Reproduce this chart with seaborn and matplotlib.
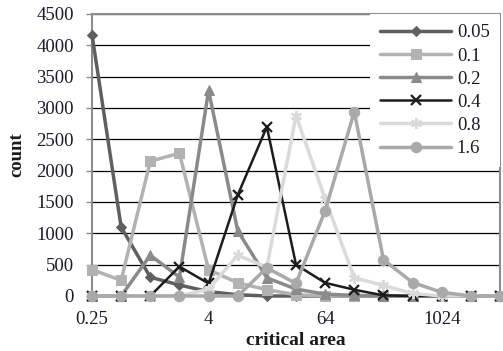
import numpy as np
import pandas as pd
import matplotlib
matplotlib.use("Agg")
import matplotlib.pyplot as plt
import seaborn as sns
from matplotlib.ticker import FixedLocator, FixedFormatter, NullLocator

# ---- data ----
areas = [0.25, 0.5, 1, 2, 4, 8, 16, 32, 64, 128, 256, 512, 1024, 2048, 4096]
s_005 = [4170, 1100, 300, 175, 70, 20, 0, 0, 0, 0, 0, 0, 0, 0, 0]
s_01 = [420, 250, 2150, 2280, 420, 210, 100, 20, 0, 0, 0, 0, 0, 0, 0]
s_02 = [0, 0, 650, 300, 3280, 1040, 290, 110, 30, 10, 0, 0, 0, 0, 0]
s_04 = [0, 0, 0, 470, 200, 1610, 2700, 500, 210, 100, 10, 0, 0, 0, 0]
s_08 = [0, 0, 0, 0, 110, 650, 460, 2880, 1550, 290, 170, 40, 0, 0, 0]
s_16 = [0, 0, 0, 0, 0, 0, 450, 200, 1360, 2940, 580, 215, 60, 0, 0]
series_labels = ["0.05", "0.1", "0.2", "0.4", "0.8", "1.6"]
x_ticks = [0.25, 4, 64, 1024]
x_tick_labels = ["0.25", "4", "64", "1024"]
y_ticks = [0, 500, 1000, 1500, 2000, 2500, 3000, 3500, 4000, 4500]

sns.set_theme(style="white")
plt.rcParams['font.family'] = ['Liberation Serif', 'DejaVu Serif']

fig = plt.figure(figsize=(5.03, 3.51), dpi=100)
ax = fig.add_axes([92/503, 1-296/351, 408/503, 282/351])

styles = [
    dict(color="#5f5f5f", marker="D", markersize=5.5, linewidth=2.5),
    dict(color="#b2b2b2", marker="s", markersize=7, linewidth=2.5),
    dict(color="#8a8a8a", marker="^", markersize=7.5, linewidth=2.5),
    dict(color="#1c1c1c", marker="x", markersize=7, linewidth=1.8, markeredgewidth=1.6),
    dict(color="#dadada", marker=(6, 2, 0), markersize=8, linewidth=2.5, markeredgewidth=1.6),
    dict(color="#a9a9a9", marker="o", markersize=7.5, linewidth=2.5),
]
all_series = [s_005, s_01, s_02, s_04, s_08, s_16]

for i, (vals, lab, st) in enumerate(zip(all_series, series_labels, styles)):
    df = pd.DataFrame({"area": areas, "count": vals})
    sns.lineplot(data=df, x="area", y="count", ax=ax, label=lab,
                 markeredgecolor=st["color"], clip_on=False, zorder=3 + i, **st)

ax.set_xscale("log", base=2)
ax.set_xlim(0.25, 4096)
ax.set_ylim(0, 4500)
ax.xaxis.set_major_locator(FixedLocator(x_ticks))
ax.xaxis.set_major_formatter(FixedFormatter(x_tick_labels))
ax.xaxis.set_minor_locator(NullLocator())
ax.set_yticks(y_ticks)
ax.set_yticklabels([str(v) for v in y_ticks])

ax.yaxis.grid(True, color="black", linewidth=0.9)
ax.xaxis.grid(False)
ax.set_axisbelow(True)
for side in ["left", "right", "top", "bottom"]:
    ax.spines[side].set_visible(True)
    ax.spines[side].set_color("#8c8c8c")
    ax.spines[side].set_linewidth(1.5)

ax.tick_params(axis="x", length=0, pad=11, labelsize=13.5, colors="#1a1a2a")
ax.tick_params(axis="y", length=4, width=1, color="#8c8c8c", pad=9,
               labelsize=13.5, labelcolor="#1a1a2a", left=True)

ax.set_xlabel("critical area", fontsize=14, fontweight="bold", labelpad=3,
              color="#1a1a1a")
ax.set_ylabel("count", fontsize=13.5, fontweight="bold", labelpad=8,
              color="#1a1a1a")

leg = ax.legend(loc="upper right", bbox_to_anchor=(1.0, 1.0), frameon=True,
                fontsize=13.5, handlelength=3.8, handletextpad=0.3,
                labelspacing=0.32, borderpad=0.55, borderaxespad=0.0,
                fancybox=False)
leg.get_frame().set_facecolor("white")
leg.get_frame().set_edgecolor("white")
leg.get_frame().set_alpha(1.0)
leg.get_frame().set_linewidth(0)
leg.set_zorder(20)
for t in leg.get_texts():
    t.set_color("#1a1a2a")

fig.savefig("out.png", dpi=100)
